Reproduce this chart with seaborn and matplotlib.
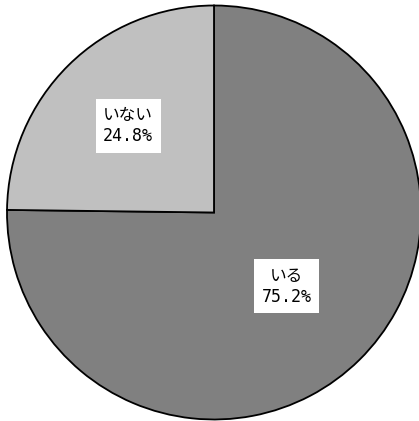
import numpy as np
import matplotlib
matplotlib.use("Agg")
import matplotlib.pyplot as plt
import seaborn as sns

sns.set_theme(style="white")
plt.rcParams['font.family'] = ['DejaVu Sans Mono', 'Noto Sans CJK JP']

categories = ["いる", "いない"]
values = [75.2, 24.8]
colors = ["#808080", "#c0c0c0"]
label_dist = [0.50, 0.59]

W, H = 419, 421
fig = plt.figure(figsize=(W / 100, H / 100), dpi=100)
ax = fig.add_axes([0, 0, 1, 1])

cx, cy, r = 214, H - 212.5, 207
wedges, _ = ax.pie(values, colors=colors, startangle=90, counterclock=False,
                   radius=r, center=(cx, cy), frame=True,
                   wedgeprops=dict(edgecolor="black", linewidth=1.3))
ax.set_xlim(0, W)
ax.set_ylim(0, H)
ax.set_aspect("equal")
ax.axis("off")

for w, cat, v, d in zip(wedges, categories, values, label_dist):
    ang = np.deg2rad((w.theta1 + w.theta2) / 2)
    x = cx + d * r * np.cos(ang)
    y = cy + d * r * np.sin(ang)
    ax.text(x, y, f"{cat}\n{v:.1f}%", ha="center", va="center", fontsize=12,
            linespacing=1.2, color="black",
            bbox=dict(boxstyle="square,pad=0.45", facecolor="white", edgecolor="none"))

fig.savefig("out.png", dpi=100)
